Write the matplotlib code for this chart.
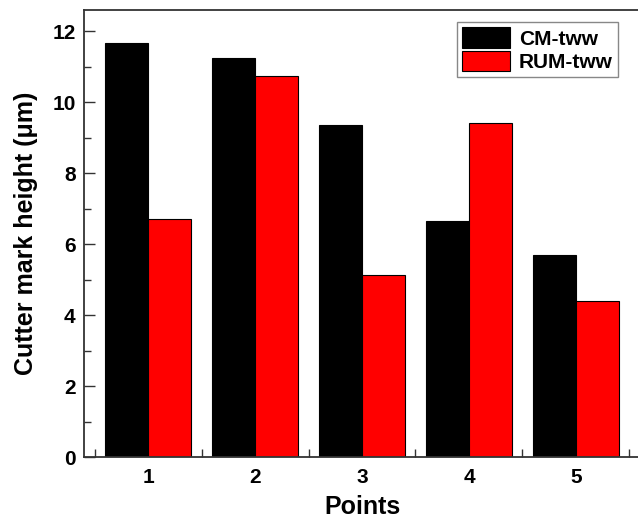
import numpy as np
import matplotlib.pyplot as plt
from matplotlib.ticker import MultipleLocator, FixedLocator

plt.rcParams['font.family'] = ['Liberation Sans', 'DejaVu Sans']
plt.rcParams['font.weight'] = 'bold'

points = [1, 2, 3, 4, 5]
cm_tww = [11.68, 11.24, 9.37, 6.65, 5.69]
rum_tww = [6.72, 10.74, 5.13, 9.42, 4.40]

x = np.array(points)
w = 0.4

fig = plt.figure(figsize=(6.38, 5.21), dpi=100)
ax = fig.add_axes([0.1317, 0.1228, 0.8715, 0.858])

ax.bar(x - w / 2, cm_tww, w, color='black', edgecolor='black', linewidth=0.8, label='CM-tww')
ax.bar(x + w / 2, rum_tww, w, color='#ff0000', edgecolor='black', linewidth=0.8, label='RUM-tww')

ax.set_xlim(0.4, 5.6)
ax.set_ylim(0, 12.6)

# x: labels at integers, tick marks between groups
ax.xaxis.set_major_locator(FixedLocator(points))
ax.xaxis.set_minor_locator(FixedLocator(np.arange(0.5, 6, 1)))
ax.tick_params(axis='x', which='major', length=0, pad=8, labelsize=15)
ax.tick_params(axis='x', which='minor', direction='in', length=6, width=1, color='#333333')

ax.yaxis.set_major_locator(MultipleLocator(2))
ax.yaxis.set_minor_locator(MultipleLocator(1))
ax.tick_params(axis='y', which='major', direction='in', length=8, width=1, pad=6,
               labelsize=15, color='#333333')
ax.tick_params(axis='y', which='minor', direction='in', length=5, width=1, color='#333333')

for s in ax.spines.values():
    s.set_color('#333333')
    s.set_linewidth(1.3)

ax.set_xlabel('Points', fontsize=18, fontweight='bold', labelpad=6)
ax.set_ylabel('Cutter mark height (μm)', fontsize=18, fontweight='bold', labelpad=10)

leg = ax.legend(loc='upper right', bbox_to_anchor=(0.96, 0.973), borderaxespad=0,
                fancybox=False, edgecolor='#888888', framealpha=1,
                handlelength=2.3, handleheight=1.15, labelspacing=0.1,
                borderpad=0.25, handletextpad=0.4, prop={'size': 15, 'weight': 'bold'})

fig.savefig('out.png', dpi=100)
